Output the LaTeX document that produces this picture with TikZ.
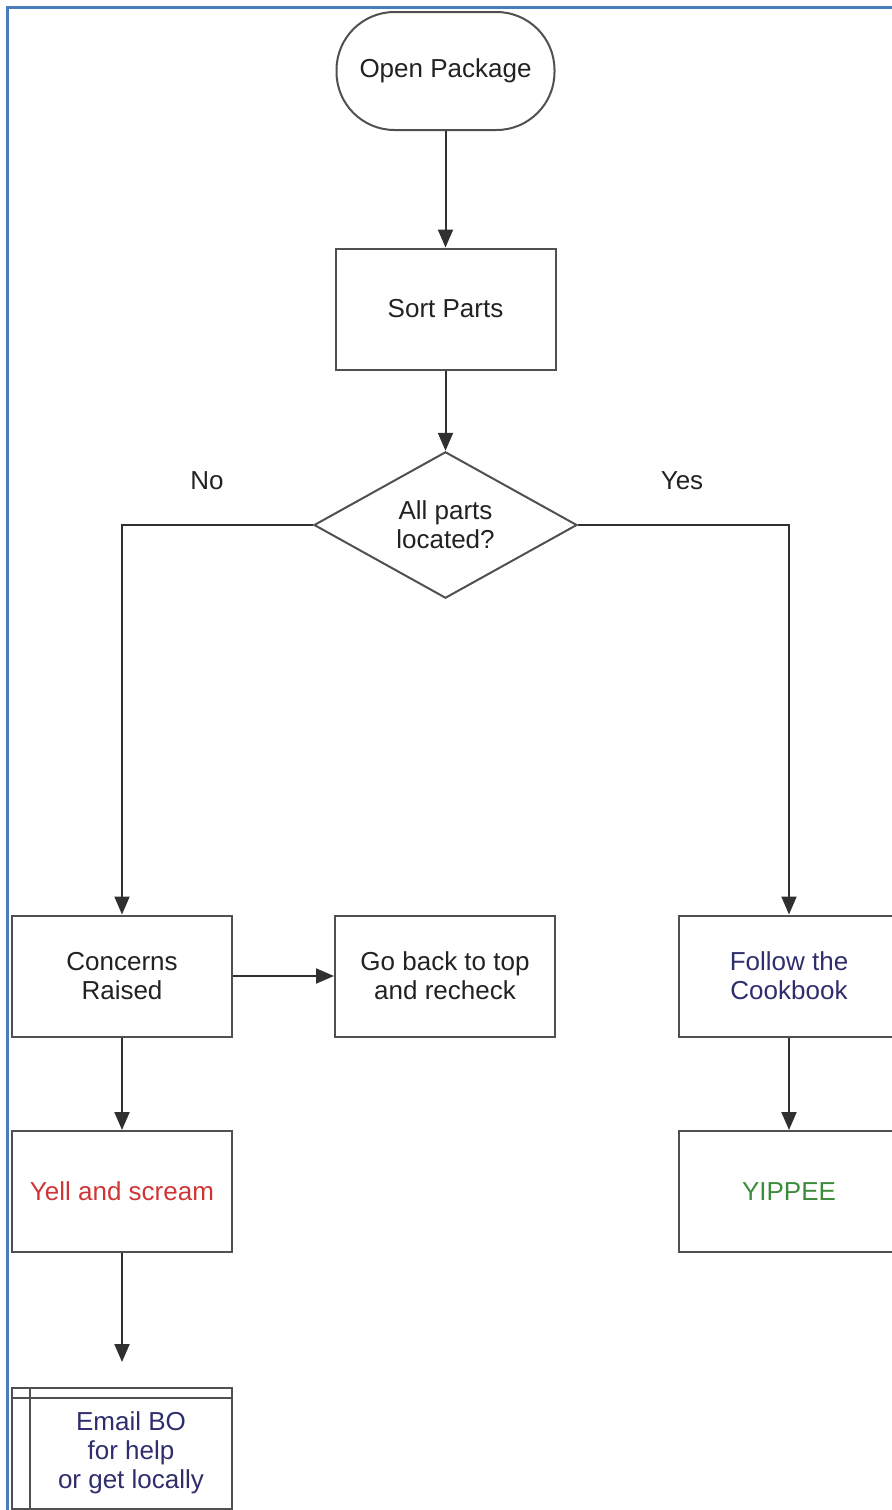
\documentclass[tikz,border=0pt]{standalone}
\usepackage{fontspec}
\setmainfont{Liberation Sans}
\usetikzlibrary{shapes.geometric,arrows.meta}
\definecolor{boxline}{HTML}{505050}
\definecolor{conn}{HTML}{303030}
\definecolor{txt}{HTML}{222222}
\definecolor{navy}{HTML}{2E2E6E}
\definecolor{redtxt}{HTML}{D03535}
\definecolor{greentxt}{HTML}{3C8C3C}
\definecolor{frameblue}{HTML}{4A7EBB}
\tikzset{
  base/.style={draw=boxline, line width=1pt, text=txt, align=center,
    font=\fontsize{13pt}{14.5pt}\selectfont, inner sep=0pt},
  procbox/.style={base, rectangle, minimum width=110pt, minimum height=60.5pt},
  termbox/.style={base, rectangle, rounded corners=29pt, minimum width=109pt, minimum height=59pt},
  decbox/.style={base, diamond, minimum width=131.5pt, minimum height=73pt},
  conn/.style={draw=conn, line width=1pt, -{Triangle[length=9pt,width=7.5pt]}},
  lbl/.style={text=txt, font=\fontsize{13pt}{14.5pt}\selectfont, inner sep=0pt},
}
\begin{document}
\begin{tikzpicture}[x=0.5pt,y=-0.5pt]
\useasboundingbox (0,0) rectangle (892,1510);
\clip (0,0) rectangle (892,1510);
% frame
\draw[frameblue, line width=1.2pt] (7.5,1515) -- (7.5,7.5) -- (900,7.5);
% nodes
\node[termbox] (open) at (445.5,71) {Open Package};
\node[procbox] (sort) at (445.5,309) {Sort Parts};
\node[decbox] (dec) at (445.5,525) {All parts\\located?};
\node[procbox] (concerns) at (122,976) {Concerns\\Raised};
\node[procbox] (goback) at (445,976) {Go back to top\\and recheck};
\node[procbox] (follow) at (789,976) {\textcolor{navy}{Follow the}\\\textcolor{navy}{Cookbook}};
\node[procbox] (yell) at (122,1191.5) {\textcolor{redtxt}{Yell and scream}};
\node[procbox] (yippee) at (789,1191.5) {\textcolor{greentxt}{YIPPEE}};
\node[procbox] (email) at (122,1448.5) {};
\draw[boxline, line width=1pt] ([yshift=-5.5pt]email.north west) -- ([yshift=-5.5pt]email.north east);
\draw[boxline, line width=1pt] ([xshift=9.5pt]email.north west) -- ([xshift=9.5pt]email.south west);
\node[lbl, align=center] (emailtxt) at (131,1453) {\textcolor{navy}{Email BO}\\\textcolor{navy}{for help}\\\textcolor{navy}{or get locally}};
% labels
\node[lbl] (no) at (207,481) {No};
\node[lbl] (yes) at (682,481) {Yes};
% connectors
\coordinate (emailin) at (122,1362);
\draw[conn] (open.south) -- (sort.north);
\draw[conn] (sort.south) -- (dec.north);
\draw[conn] (dec.west) -| (concerns.north);
\draw[conn] (dec.east) -| (follow.north);
\draw[conn] (concerns.east) -- (goback.west);
\draw[conn] (concerns.south) -- (yell.north);
\draw[conn] (follow.south) -- (yippee.north);
\draw[conn] (yell.south) -- (emailin);
\end{tikzpicture}
\end{document}
